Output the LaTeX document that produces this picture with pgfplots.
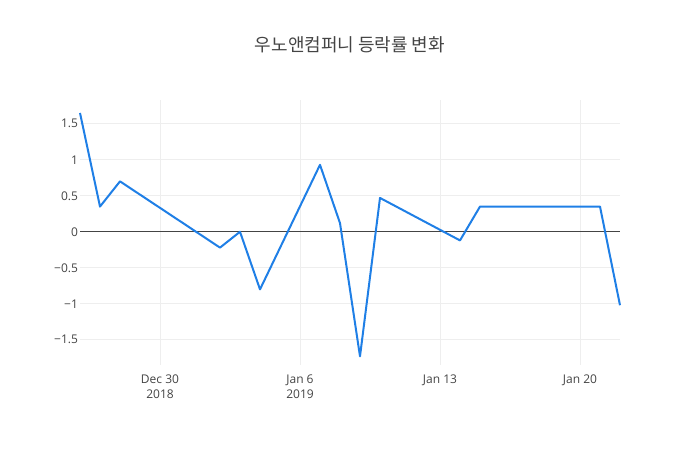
\documentclass[border=0pt]{standalone}
\usepackage{pgfplots}
\pgfplotsset{compat=1.18}
\usepackage{fontspec}
\setmainfont{Open Sans}
\newfontfamily\cjk{Noto Sans CJK KR}
\definecolor{linecol}{HTML}{1F7FE6}
\definecolor{txt}{HTML}{444444}
\definecolor{gridc}{HTML}{EEEEEE}
% days counted from Dec 30 2018
\pgfplotstableread{
day rate
-4 1.65
-3 0.35
-2 0.70
3 -0.22
4 0.00
5 -0.80
8 0.93
9 0.12
10 -1.73
11 0.47
15 -0.12
16 0.35
22 0.35
23 -1.02
}\ratedata
\begin{document}
\begin{tikzpicture}[x=0.75pt,y=0.75pt]
\path[use as bounding box] (0,0) rectangle (700,450);
\node[text=txt,font=\cjk\fontsize{13.5}{16}\selectfont] at (350,405) {우노앤컴퍼니 등락률 변화};
\begin{axis}[
  at={(60pt,63.75pt)}, anchor=south west,
  scale only axis, width=405pt, height=198.75pt,
  xmin=-4, xmax=23, ymin=-1.85, ymax=1.83,
  axis line style={draw=none}, tick style={draw=none},
  grid=major, major grid style={gridc, line width=0.75pt},
  xtick={0,7,14,21},
  xticklabels={{Dec 30\\2018},{Jan 6\\2019},Jan 13,Jan 20},
  ytick={-1.5,-1,-0.5,0,0.5,1,1.5},
  yticklabels={−1.5,−1,−0.5,0,0.5,1,1.5},
  x tick label style={align=center, font=\fontsize{9}{11.5}\selectfont, text=txt, yshift=-3.5pt},
  y tick label style={font=\fontsize{9}{11}\selectfont, text=txt, xshift=2pt},
  clip=false,
]
\draw[txt, line width=0.75pt] (axis cs:-4,0) -- (axis cs:23,0);
\addplot[linecol, line width=1.5pt, line join=round] table[x=day, y=rate] {\ratedata};
\end{axis}
\end{tikzpicture}
\end{document}
